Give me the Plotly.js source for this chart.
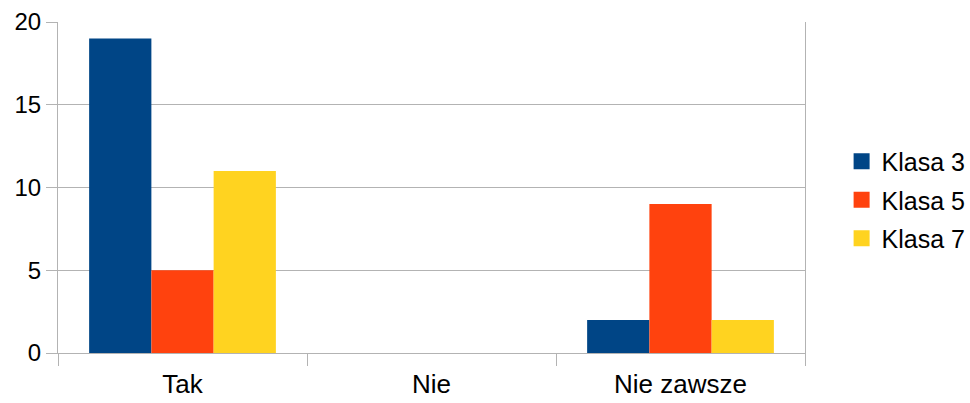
<!DOCTYPE html>
<html>
<head>
<meta charset="utf-8">
<script src="https://cdn.plot.ly/plotly-3.0.1.min.js"></script>
<style>html,body{margin:0;padding:0;background:#fff;}#chart{width:970px;height:403px;}</style>
</head>
<body>
<div id="chart"></div>
<script>
const categories = ["Tak", "Nie", "Nie zawsze"];
const seriesNames = ["Klasa 3", "Klasa 5", "Klasa 7"];
const klasa3 = [19, 0, 2];
const klasa5 = [5, 0, 9];
const klasa7 = [11, 0, 2];
const yTicks = [0, 5, 10, 15, 20];
const colors = ["#004586", "#ff420e", "#ffd320"];

const values = [klasa3, klasa5, klasa7];
const bars = values.map((v, i) => ({
  type: "bar",
  name: seriesNames[i],
  x: categories,
  y: v,
  marker: {color: colors[i], line: {width: 0}},
  showlegend: false,
  hoverinfo: "x+y+name"
}));
// legend entries (larger square keys)
const keys = seriesNames.map((n, i) => ({
  type: "scatter",
  mode: "markers",
  name: n,
  x: [categories[0]],
  y: [null],
  marker: {symbol: "square", size: 16, color: colors[i], line: {width: 0}},
  legendgroup: "g" + i,
  hoverinfo: "skip"
}));

const layout = {
  width: 970, height: 403,
  margin: {l: 58, r: 165, t: 22, b: 50, pad: 0, autoexpand: false},
  paper_bgcolor: "#fff", plot_bgcolor: "#fff",
  font: {family: "Liberation Sans, Arial, sans-serif", size: 25, color: "#000"},
  barmode: "group",
  bargap: 0.25,
  bargroupgap: 0,
  showlegend: true,
  legend: {
    x: 1.049, xanchor: "left", y: 0.462, yanchor: "middle",
    font: {size: 25, color: "#000"},
    tracegroupgap: 3,
    itemwidth: 30,
    itemsizing: "trace",
    bgcolor: "rgba(0,0,0,0)"
  },
  xaxis: {
    type: "category",
    showline: true, linecolor: "#b3b3b3", linewidth: 1,
    ticks: "outside", tickson: "boundaries", ticklen: 12, tickcolor: "#b3b3b3", tickwidth: 1,
    ticklabelstandoff: 8,
    showgrid: false, zeroline: false,
    tickfont: {size: 26, color: "#000"}
  },
  yaxis: {
    range: [0, 20],
    tickvals: yTicks,
    ticktext: yTicks.map(String),
    showgrid: true, gridcolor: "#b3b3b3", gridwidth: 1,
    showline: true, mirror: true, linecolor: "#b3b3b3", linewidth: 1,
    ticks: "outside", ticklen: 11, tickcolor: "#b3b3b3", tickwidth: 1,
    zeroline: false,
    tickfont: {size: 24, color: "#000"}
  }
};

Plotly.newPlot("chart", bars.concat(keys), layout, {displayModeBar: false, staticPlot: true});
</script>
</body>
</html>
